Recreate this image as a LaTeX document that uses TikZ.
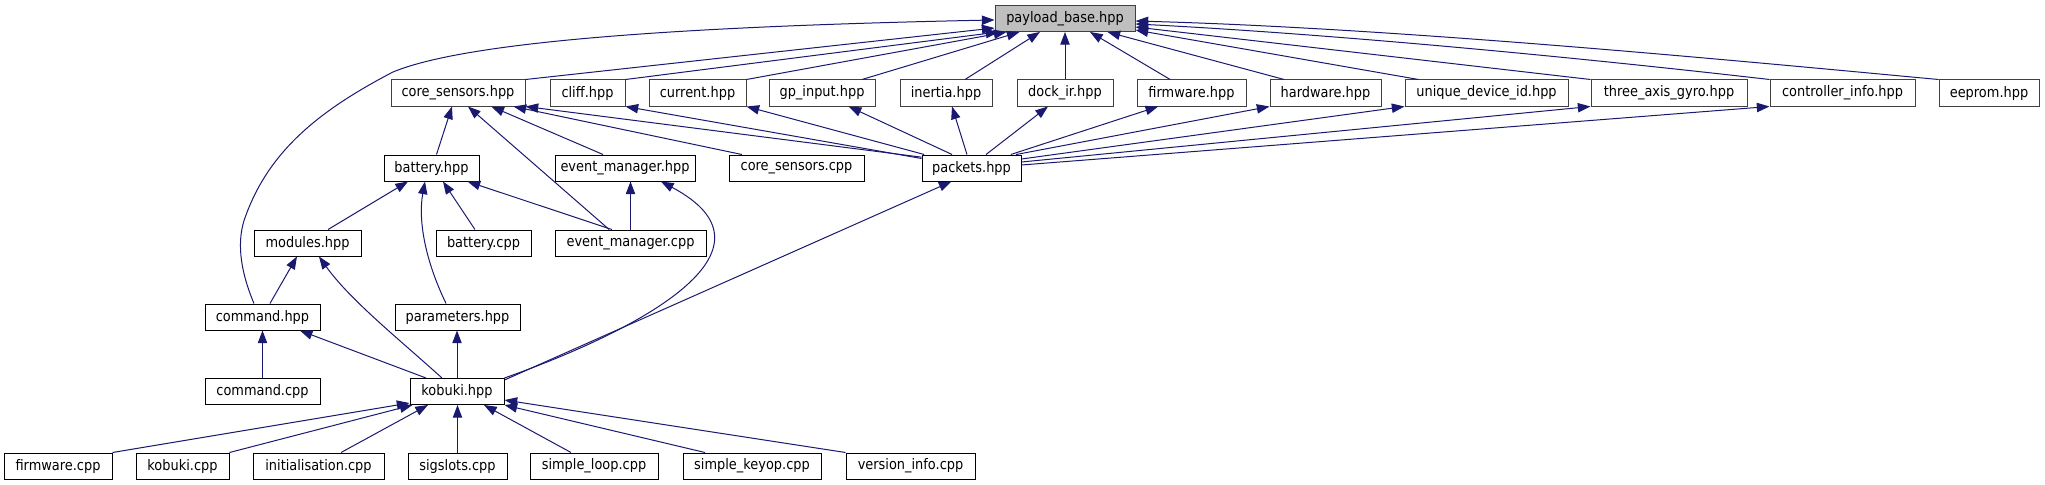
\documentclass[tikz,border=0pt]{standalone}
\usepackage{fontspec}
\setmainfont{DejaVu Sans}[FakeStretch=0.89]
\usetikzlibrary{arrows.meta}
\definecolor{edgeblue}{HTML}{191970}
\definecolor{rootfill}{HTML}{BFBFBF}
\definecolor{darkborder}{HTML}{404040}
\begin{document}
\begin{tikzpicture}[x=0.75pt,y=-0.75pt,
  box/.style={draw=black,fill=white,rectangle,line width=0.75pt,minimum height=19.5pt,inner sep=0pt,
    font=\fontsize{10.9}{12}\selectfont},
  graybox/.style={box,draw=darkborder},
  rootbox/.style={box,draw=darkborder,fill=rootfill},
  edge/.style={draw=edgeblue,line width=0.75pt,-{Triangle[length=9.5pt,width=7pt]}}]
\useasboundingbox (0,0) rectangle (2045,485);
% row 0
\node[rootbox,minimum width=105pt] (pb) at (1065,18.5) {payload\_base.hpp};
% row 1
\node[graybox,minimum width=100.5pt] (cs) at (458,93) {core\_sensors.hpp};
\node[graybox,minimum width=56.25pt] (cliff) at (587.5,93) {cliff.hpp};
\node[graybox,minimum width=72.75pt] (cur) at (697.5,93) {current.hpp};
\node[graybox,minimum width=79.5pt] (gp) at (822,93) {gp\_input.hpp};
\node[graybox,minimum width=69pt] (in) at (946,93) {inertia.hpp};
\node[graybox,minimum width=72pt] (di) at (1065,93) {dock\_ir.hpp};
\node[graybox,minimum width=81.75pt] (fwh) at (1191.5,93) {firmware.hpp};
\node[graybox,minimum width=83.25pt] (hw) at (1325.5,93) {hardware.hpp};
\node[graybox,minimum width=122.25pt] (ud) at (1486.5,93) {unique\_device\_id.hpp};
\node[graybox,minimum width=117pt] (ta) at (1669,93) {three\_axis\_gyro.hpp};
\node[graybox,minimum width=108.75pt] (ci) at (1842.5,93) {controller\_info.hpp};
\node[graybox,minimum width=75pt] (ee) at (1989,93) {eeprom.hpp};
% row 2
\node[box,minimum width=71.25pt] (bh) at (431.5,168) {battery.hpp};
\node[box,minimum width=105pt] (emh) at (625,168) {event\_manager.hpp};
\node[box,minimum width=101.25pt] (csc) at (796.5,168) {core\_sensors.cpp};
\node[box,minimum width=74.25pt] (pk) at (971.5,168) {packets.hpp};
% row 3
\node[box,minimum width=80.25pt] (mod) at (307.5,243) {modules.hpp};
\node[box,minimum width=71.25pt] (bc) at (483.5,243) {battery.cpp};
\node[box,minimum width=113.25pt] (emc) at (630.5,243) {event\_manager.cpp};
% row 4
\node[box,minimum width=86.25pt] (cmdh) at (262.5,317) {command.hpp};
\node[box,minimum width=93.75pt] (par) at (457.5,317) {parameters.hpp};
% row 5
\node[box,minimum width=86.25pt] (cmdc) at (262.5,391.5) {command.cpp};
\node[box,minimum width=70.5pt] (kob) at (457,391.5) {kobuki.hpp};
% row 6
\node[box,minimum width=81pt] (fwc) at (58,466) {firmware.cpp};
\node[box,minimum width=69.75pt] (kobc) at (182.5,466) {kobuki.cpp};
\node[box,minimum width=98.25pt] (init) at (318.5,466) {initialisation.cpp};
\node[box,minimum width=74.25pt] (sig) at (457.5,466) {sigslots.cpp};
\node[box,minimum width=96pt] (sl) at (594,466) {simple\_loop.cpp};
\node[box,minimum width=103.5pt] (sk) at (752,466) {simple\_keyop.cpp};
\node[box,minimum width=96.75pt] (vi) at (910.5,466) {version\_info.cpp};
% edges into payload_base
\draw[edge] ([xshift=-6.4pt]cmdh.north) .. controls (240,270) and (236,240) .. (246,215)
  .. controls (270,150) and (320,110) .. (393,72)
  .. controls (470,40) and (700,26) .. ([yshift=-1.1pt]pb.west);
\draw[edge] (cs.north east) -- ([yshift=3pt]pb.south west);
\draw[edge] (cliff.north east) -- ([xshift=3pt]pb.south west);
\draw[edge] (cur.north east) -- ([xshift=9pt]pb.south west);
\draw[edge] ([xshift=30pt]gp.north) -- ([xshift=18.75pt]pb.south west);
\draw[edge] ([xshift=14.25pt]in.north) -- ([xshift=-18.75pt]pb.south);
\draw[edge] (di.north) -- (pb.south);
\draw[edge] ([xshift=-16pt]fwh.north) -- ([xshift=18.75pt]pb.south);
\draw[edge] ([xshift=-31pt]hw.north) -- ([xshift=-21pt]pb.south east);
\draw[edge] ([xshift=10.5pt]ud.north west) -- ([yshift=1.5pt]pb.south east);
\draw[edge] (ta.north west) -- ([yshift=-6.4pt]pb.east);
\draw[edge] (ci.north west) .. controls (1600,60) and (1350,35) .. ([yshift=-4.1pt]pb.east);
\draw[edge] (ee.north west) .. controls (1750,62) and (1400,28) .. ([yshift=-1.9pt]pb.east);
% edges into core_sensors.hpp
\draw[edge] ([xshift=3.75pt]bh.north) -- ([xshift=-4.5pt]cs.south);
\draw[edge] ([xshift=-16pt]emc.north) -- ([xshift=7.5pt]cs.south);
\draw[edge] ([xshift=-16.5pt]emh.north) -- ([xshift=25pt]cs.south);
\draw[edge] ([xshift=-41pt]csc.north) -- ([xshift=-9pt]cs.south east);
\draw[edge] ([yshift=-2pt]pk.north west) -- (cs.south east);
% edges from packets.hpp
\draw[edge] ([yshift=-3pt]pk.north west) -- (cliff.south east);
\draw[edge] ([xshift=2pt]pk.north west) -- (cur.south east);
\draw[edge] ([xshift=-14.6pt]pk.north) -- ([xshift=20pt]gp.south);
\draw[edge] ([xshift=-3.4pt]pk.north) -- ([xshift=4.5pt]in.south);
\draw[edge] ([xshift=10.9pt]pk.north) -- ([xshift=-12.75pt]di.south);
\draw[edge] ([xshift=-8pt]pk.north east) -- ([xshift=-25pt]fwh.south);
\draw[edge] ([xshift=-4pt]pk.north east) -- (hw.south west);
\draw[edge] ([yshift=6.75pt]pk.east) -- (ud.south west);
\draw[edge] ([yshift=4.5pt]pk.east) -- (ta.south west);
\draw[edge] ([yshift=2.25pt]pk.east) -- (ci.south west);
% edges into battery.hpp
\draw[edge] ([xshift=15.4pt]mod.north) -- ([xshift=-17.6pt]bh.south);
\draw[edge] ([xshift=-8.6pt]par.north) .. controls (425,260) and (418,220) .. ([xshift=-4.9pt]bh.south);
\draw[edge] ([xshift=-6.4pt]bc.north) -- ([xshift=8.6pt]bh.south);
\draw[edge] ([xshift=-14pt]emc.north) -- ([xshift=-9pt]bh.south east);
% edges into event_manager.hpp
\draw[edge] (emc.north) -- (emc.north |- emh.south);
\draw[edge] (kob.north east) .. controls (640,330) and (790,250) .. ([xshift=27pt]emh.south);
% kobuki to packets
\draw[edge] ([yshift=-1.5pt]kob.north east) -- ([xshift=-15pt]pk.south);
% edges into modules.hpp
\draw[edge] ([xshift=5.6pt]cmdh.north) -- ([xshift=-7.9pt]mod.south);
\draw[edge] ([xshift=-11.25pt]kob.north) .. controls (400,340) and (350,300) .. ([xshift=8.6pt]mod.south);
% edges into command.hpp
\draw[edge] (cmdc.north) -- (cmdh.south);
\draw[edge] ([xshift=-23.25pt]kob.north) -- ([xshift=28pt]cmdh.south);
% kobuki to parameters
\draw[edge] (kob.north) -- (kob.north |- par.south);
% edges into kobuki.hpp
\draw[edge] (fwc.north east) -- ([yshift=1.5pt]kob.south west);
\draw[edge] (kobc.north east) -- ([xshift=2.25pt]kob.south west);
\draw[edge] ([xshift=16.9pt]init.north) -- ([xshift=-21.75pt]kob.south);
\draw[edge] (sig.north) -- (sig.north |- kob.south);
\draw[edge] ([xshift=-17.25pt]sl.north) -- ([xshift=20.25pt]kob.south);
\draw[edge] ([xshift=-35.25pt]sk.north) -- (kob.south east);
\draw[edge] (vi.north west) -- ([yshift=-6.4pt]kob.east);
\end{tikzpicture}
\end{document}
